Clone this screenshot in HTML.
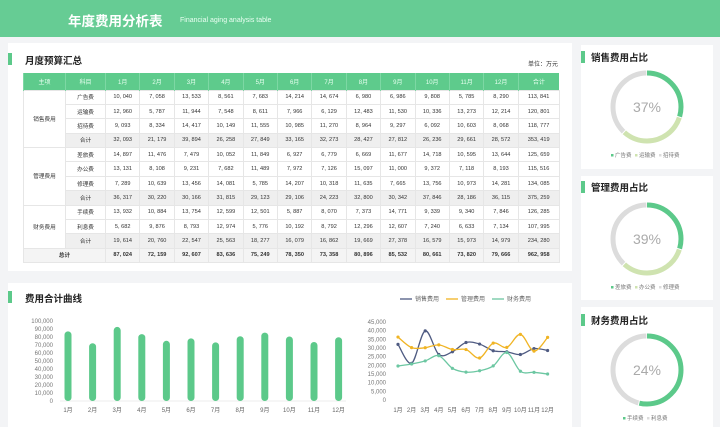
<!DOCTYPE html>
<html><head><meta charset="utf-8">
<style>
*{margin:0;padding:0;box-sizing:border-box}
body{width:720px;height:427px;overflow:hidden;background:#f3f4f6;font-family:"Liberation Sans","Noto Sans CJK SC",sans-serif;position:relative}
.panel{position:absolute;background:#fff}
.ttl{position:absolute;font-size:9.5px;font-weight:bold;color:#222}
table{position:absolute;left:23px;top:73px;border-collapse:collapse;table-layout:fixed;font-size:5.6px;color:#333}
td{border:1px solid #e6e6e6;text-align:center;height:14.4px;padding:0;overflow:hidden;white-space:nowrap}
th{background:#5ecb8c;color:#e8fff0;font-weight:normal;height:17px;border-left:1px solid #7dd8a4;font-size:6px}
tr.sub td{background:#efefef}
tr.tot td{background:#f4f4f4;font-weight:bold}
</style></head><body>
<div style="position:absolute;left:0;top:0;width:720px;height:37px;background:#66cc94"></div>
<div style="position:absolute;left:68px;top:10px;font-size:13.5px;font-weight:bold;color:#fff">年度费用分析表</div>
<div style="position:absolute;left:180px;top:17px;font-size:7px;color:#eafff2">Financial aging analysis table</div>

<div class="panel" style="left:8px;top:43px;width:564px;height:228px"></div>
<div style="position:absolute;left:8px;top:53px;width:4px;height:12px;background:#5cc98a"></div>
<div class="ttl" style="left:25px;top:53px">月度预算汇总</div>
<div style="position:absolute;left:528px;top:59px;font-size:6px;color:#333">单位：万元</div>
<table id="tbl"></table>

<div class="panel" style="left:8px;top:283px;width:564px;height:144px"></div>
<div style="position:absolute;left:8px;top:291px;width:4px;height:12px;background:#5cc98a"></div>
<div class="ttl" style="left:25px;top:291px">费用合计曲线</div>
<svg id="bars" width="360" height="144" style="position:absolute;left:0;top:283px"></svg>
<svg id="lines" width="210" height="144" style="position:absolute;left:360px;top:283px"></svg>

<div class="panel" style="left:581px;top:45px;width:132px;height:124px"></div>
<div class="panel" style="left:581px;top:176px;width:132px;height:124px"></div>
<div class="panel" style="left:581px;top:307px;width:132px;height:120px"></div>
<svg id="donuts" width="140" height="427" style="position:absolute;left:580px;top:0"></svg>

<script>
const months=['1月','2月','3月','4月','5月','6月','7月','8月','9月','10月','11月','12月'];
const totals=[87024,72159,92607,83636,75249,78350,73358,80896,85532,80661,73820,79666];
const salesTotals=[32093,21179,39894,26258,27849,33165,32273,28427,27812,26236,29661,28572];
const mgmtTotals=[36317,30220,30166,31815,29123,29106,24223,32800,30342,37846,28186,36115];
const finTotals=[19614,20760,22547,25563,18277,16079,16862,19669,27378,16579,15973,14979];
const barTicks=[0,10000,20000,30000,40000,50000,60000,70000,80000,90000,100000];
const lineTicks=[0,5000,10000,15000,20000,25000,30000,35000,40000,45000];
const salesShare=[0.30,0.32,0.38];
const mgmtShare=[0.30,0.32,0.38];
const finShare=[0.54,0.46];
const rows=[
['销售费用','广告费',[10040,7058,13533,8561,7683,14214,14674,6980,6986,9808,5785,8290,113841]],
['','运输费',[12960,5787,11944,7548,8611,7966,6129,12483,11530,10336,13273,12214,120801]],
['','招待费',[9093,8334,14417,10149,11555,10985,11270,8964,9297,6092,10603,8068,118777]],
['','合计',[32093,21179,39894,26258,27849,33165,32273,28427,27812,26236,29661,28572,353419],'sub'],
['管理费用','差旅费',[14897,11476,7479,10052,11849,6927,6779,6669,11677,14718,10595,13644,125659]],
['','办公费',[13131,8108,9231,7682,11489,7972,7126,15097,11000,9372,7118,8193,115516]],
['','修理费',[7289,10639,13456,14081,5785,14207,10318,11635,7665,13756,10973,14281,134085]],
['','合计',[36317,30220,30166,31815,29123,29106,24223,32800,30342,37846,28186,36115,375259],'sub'],
['财务费用','手续费',[13932,10884,13754,12599,12501,5887,8070,7373,14771,9339,9340,7846,126285]],
['','利息费',[5682,9876,8793,12974,5776,10192,8792,12296,12607,7240,6633,7134,107995]],
['','合计',[19614,20760,22547,25563,18277,16079,16862,19669,27378,16579,15973,14979,234280],'sub'],
['总计','',[87024,72159,92607,83636,75249,78350,73358,80896,85532,80661,73820,79666,962958],'tot']];
const fmt=v=>v.toLocaleString('en-US').replace(/,/g,', ');
const tbl=document.getElementById('tbl');
const cg=document.createElement('colgroup');
[42,40].concat(Array(12).fill(34.4)).concat([41]).forEach(w=>{const c=document.createElement('col');c.style.width=w+'px';cg.appendChild(c);});
tbl.appendChild(cg);
const hr=document.createElement('tr');
['主项','科目'].concat(months).concat(['合计']).forEach(h=>{const th=document.createElement('th');th.textContent=h;


hr.appendChild(th);});
tbl.appendChild(hr);
rows.forEach((r,i)=>{
 const tr=document.createElement('tr');
 if(r[3])tr.className=r[3];
 if(r[3]==='tot'){const td=document.createElement('td');td.colSpan=2;td.textContent=r[0];
  
  
  tr.appendChild(td);}
 else{
  if(i%4===0||i===8){const td=document.createElement('td');td.rowSpan=(i===8?3:4);td.textContent=r[0];td.style.background='#fff';
   
   
   tr.appendChild(td);}
  const td=document.createElement('td');td.textContent=r[1];
  
  
  tr.appendChild(td);}
 r[2].forEach(v=>{const td=document.createElement('td');td.textContent=fmt(v);
  
  
  tr.appendChild(td);});
 tbl.appendChild(tr);
});

const NS='http://www.w3.org/2000/svg';
function mk(svg,tag,at,txt){const e=document.createElementNS(NS,tag);for(const k in at)e.setAttribute(k,at[k]);if(txt!==undefined)e.textContent=txt;svg.appendChild(e);return e;}
const bs=document.getElementById('bars');
const by=v=>118-v/100000*80, bx=i=>68+i*24.6;
barTicks.forEach(t=>{const e=mk(bs,'text',{x:53,y:by(t)+2,'font-size':6,fill:'#777','text-anchor':'end'},t.toLocaleString('en-US'));

});
const ax=mk(bs,'line',{x1:60,x2:346,y1:118,y2:118,stroke:'#ddd','stroke-width':0.6});


totals.forEach((v,i)=>{
 const r=mk(bs,'rect',{x:bx(i)-3.5,y:by(v),width:7,height:118-by(v),rx:3.5,fill:'#5cc98a'});
 
 
 const t=mk(bs,'text',{x:bx(i),y:129,'font-size':6,fill:'#666','text-anchor':'middle'},months[i]);
 
 
});
const ls=document.getElementById('lines');
const ly=v=>117-v/45000*78, lx=i=>38+i*13.6;
lineTicks.forEach(t=>{const e=mk(ls,'text',{x:26,y:ly(t)+2,'font-size':6,fill:'#777','text-anchor':'end'},t.toLocaleString('en-US'));

});
months.forEach((m,i)=>{const e=mk(ls,'text',{x:lx(i),y:129,'font-size':6,fill:'#666','text-anchor':'middle'},m);

});
function smooth(pts){let d='M'+pts[0][0]+','+pts[0][1];for(let i=0;i<pts.length-1;i++){const p0=pts[i-1]||pts[i],p1=pts[i],p2=pts[i+1],p3=pts[i+2]||p2;
d+=' C'+(p1[0]+(p2[0]-p0[0])/6)+','+(p1[1]+(p2[1]-p0[1])/6)+' '+(p2[0]-(p3[0]-p1[0])/6)+','+(p2[1]-(p3[1]-p1[1])/6)+' '+p2[0]+','+p2[1];}return d;}
[[salesTotals,'#4f5b82','销售费用'],[mgmtTotals,'#f0b424','管理费用'],[finTotals,'#6cc7a2','财务费用']].forEach((s,k)=>{
 const pts=s[0].map((v,i)=>[lx(i),ly(v)]);
 const p=mk(ls,'path',{d:smooth(pts),fill:'none',stroke:s[1],'stroke-width':1.3});
 
 
 pts.forEach(q=>{const c=mk(ls,'circle',{cx:q[0],cy:q[1],r:1.6,fill:s[1]});
  
  });
 const lx0=40+k*46;
 const ll=mk(ls,'line',{x1:lx0,x2:lx0+12,y1:16,y2:16,stroke:s[1],'stroke-width':1.3});
 
 
 const lt=mk(ls,'text',{x:lx0+15,y:18,'font-size':6,fill:'#666'},s[2]);
 
 
});
const ds=document.getElementById('donuts');
const donuts=[['销售费用占比',57,107,'37%',salesShare,['#5cc98a','#cfe3b0','#dcdcdc'],['广告费','运输费','招待费']],
['管理费用占比',187,239,'39%',mgmtShare,['#5cc98a','#cfe3b0','#dcdcdc'],['差旅费','办公费','修理费']],
['财务费用占比',320,370,'24%',finShare,['#5cc98a','#dcdcdc'],['手续费','利息费']]];
donuts.forEach(d=>{
 const m=mk(ds,'rect',{x:1,y:d[1]-6,width:4,height:12,fill:'#5cc98a'});
 
 
 const t=mk(ds,'text',{x:11,y:d[1]+4,'font-size':9.5,'font-weight':'bold',fill:'#222'},d[0]);
 
 
 const cx=67,cy=d[2],r=34,C=2*Math.PI*r;let acc=0;
 d[4].forEach((f,i)=>{
  const c=mk(ds,'circle',{cx:cx,cy:cy,r:r,fill:'none',stroke:d[5][i],'stroke-width':5,'stroke-dasharray':(f*C-1)+' '+C,'stroke-dashoffset':-acc*C,transform:'rotate(-90 '+cx+' '+cy+')'});
  
  
  acc+=f;});
 const pt=mk(ds,'text',{x:cx,y:cy+5,'font-size':14,fill:'#aaa','text-anchor':'middle'},d[3]);
 
 
 const lw=d[6].length*24;let x0=cx-lw/2;
 d[6].forEach((n,i)=>{
  const s=mk(ds,'rect',{x:x0,y:cy+47,width:2.5,height:2.5,fill:d[5][i]});
  
  
  const lt=mk(ds,'text',{x:x0+4,y:cy+50,'font-size':5.5,fill:'#777'},n);
  
  
  x0+=24;});
});
</script>
</body></html>
